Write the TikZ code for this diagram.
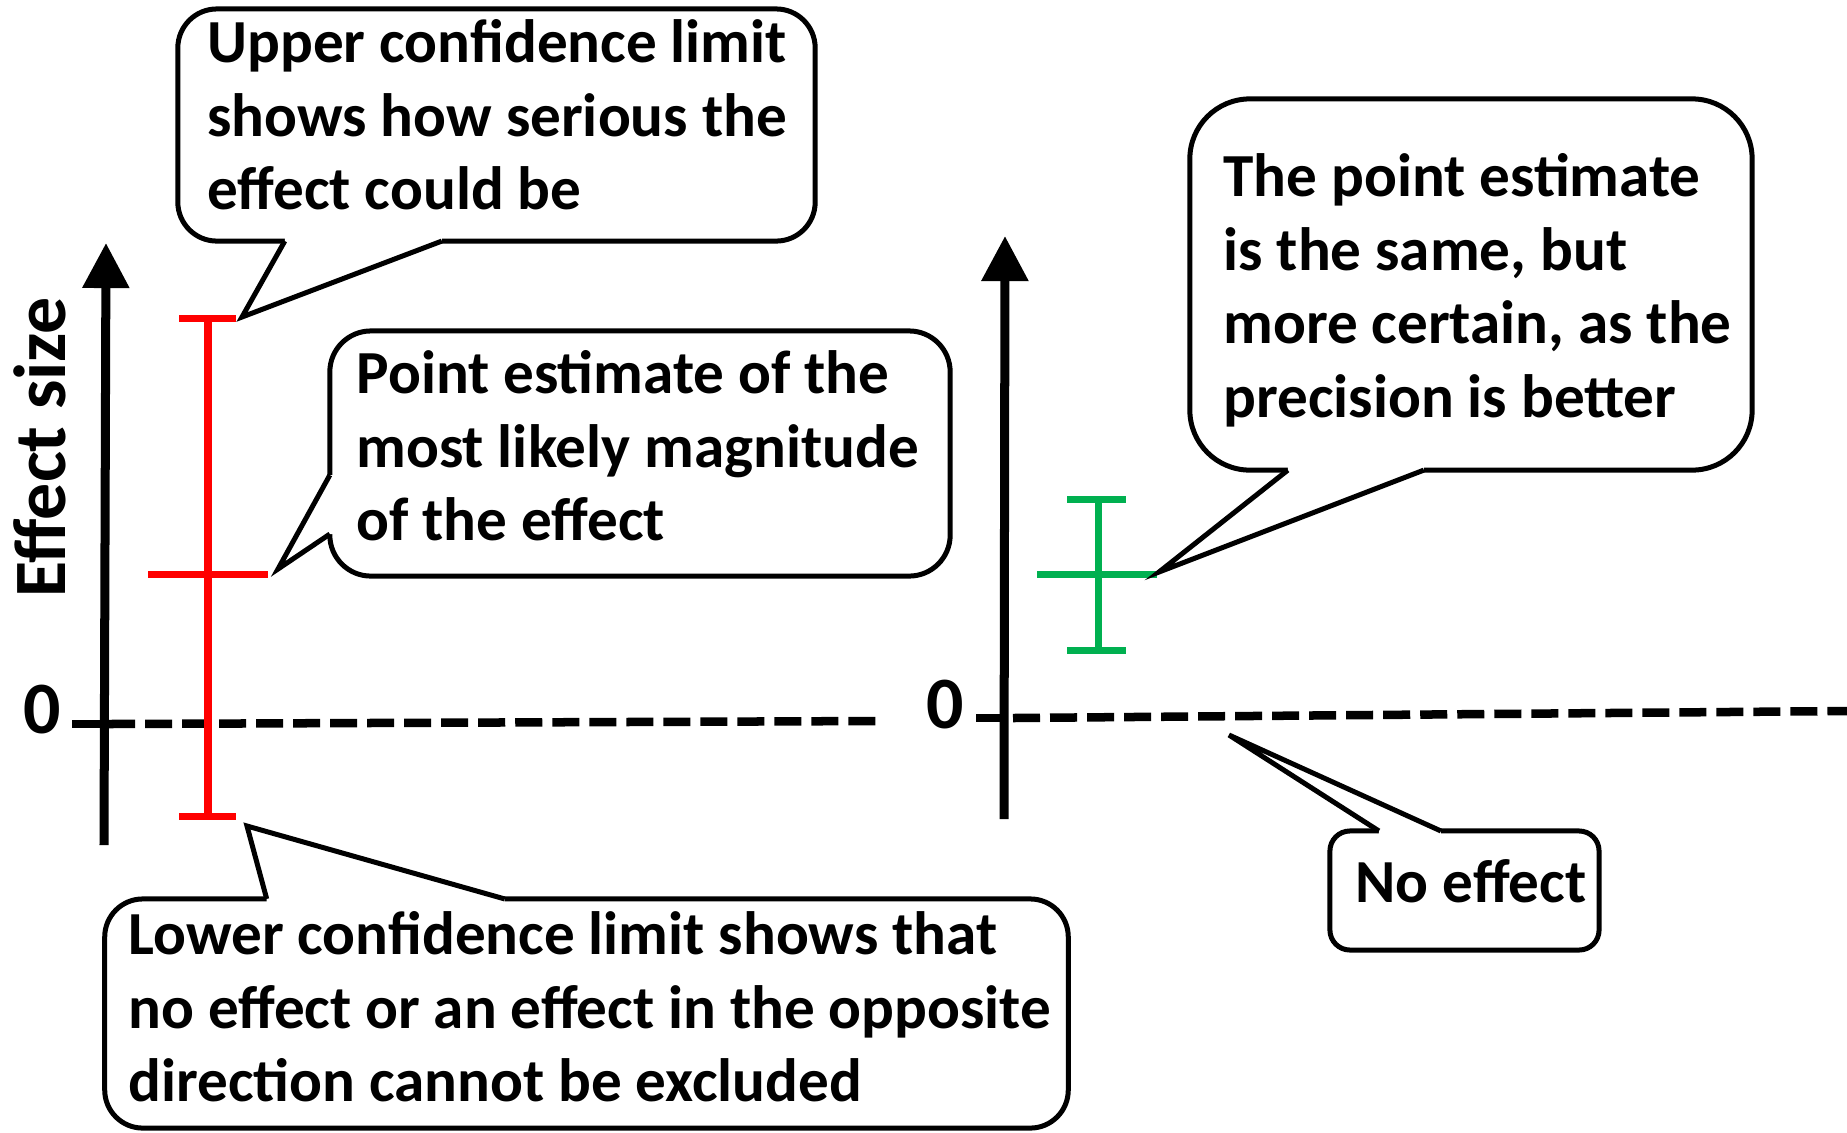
\documentclass[tikz,border=0pt]{standalone}
\usepackage{fontspec}
\setmainfont{Carlito}
\usetikzlibrary{arrows.meta,calc}

\definecolor{lowred}{HTML}{FF0000}
\definecolor{highgreen}{HTML}{00B050}

\newcommand{\bubbletail}[4]{%
    \fill[white] (#1) -- (#2) -- (#3) -- ($(#3)+(#4)$) -- ($(#1)+(#4)$) -- cycle;
    \draw[tailline] (#1) -- (#2) -- (#3);}

\tikzset{
    bubble/.style={draw, line width=0.05cm, fill=white, rounded corners=#1,
        inner sep=0pt, outer sep=0pt},
    tailline/.style={line width=0.05cm, line join=miter},
    note/.style={anchor=base west, align=flush left, inner sep=0pt, text width=#1,
        font=\bfseries\fontsize{17.4pt}{20.9pt}\selectfont},
    big/.style={inner sep=0pt, font=\bfseries\fontsize{21pt}{25pt}\selectfont},
    effaxis/.style={line width=0.09cm, -{Triangle[width=0.45cm, length=0.45cm]}},
    zeroline/.style={line width=0.085cm, dash pattern=on 0.27cm off 0.1cm},
    zerotick/.style={line width=0.085cm},
    cibar/.style={line width=0.07cm},
}

\begin{document}
\begin{tikzpicture}[x=0.01cm, y=-0.01cm]
    \useasboundingbox (0,0) rectangle (1847,1132);

    % left panel
    \draw[effaxis] (104,845) -- (106,243);
    \draw[zerotick] (72,724) -- (104,724);
    \draw[zeroline] (108,724) -- (882,721);
    \node[big, anchor=base] (zero left) at (42.5,733) {0};
    \node[big, rotate=90, anchor=base west] (effect size) at (65,598) {Effect size};

    \draw[cibar, lowred] (208,318) -- (208,816);
    \draw[cibar, lowred] (179,318) -- (236,318);
    \draw[cibar, lowred] (148,574) -- (268,574);
    \draw[cibar, lowred] (179,816) -- (236,816);

    \node[bubble=0.39cm, minimum width=6.37cm, minimum height=2.32cm] (ucl) at (496.5,125) {};
    \node[note=6.3cm] (ucl text) at ($(ucl.north west)+(29,54)$)
        {Upper confidence limit\\shows how serious the\\effect could be};
    \coordinate (ucl a) at ($(ucl.south west)+(107,0)$);
    \coordinate (ucl b) at ($(ucl.south west)+(264,0)$);
    \coordinate (ucl tip) at (242,317);
    \bubbletail{ucl a}{ucl tip}{ucl b}{0,-5}

    \node[bubble=0.41cm, minimum width=6.2cm, minimum height=2.45cm] (pe) at (640,453.5) {};
    \node[note=6.1cm] (pe text) at ($(pe.north west)+(26,63)$)
        {Point estimate of the\\most likely magnitude\\of the effect};
    \coordinate (pe a) at ($(pe.south west)+(0,-42)$);
    \coordinate (pe b) at ($(pe.south west)+(0,-101)$);
    \coordinate (pe tip) at (278,569);
    \bubbletail{pe a}{pe tip}{pe b}{5,0}

    \node[bubble=0.38cm, minimum width=9.63cm, minimum height=2.29cm] (lcl) at (586.5,1013.5) {};
    \node[note=9.5cm] (lcl text) at ($(lcl.north west)+(23,56)$)
        {Lower confidence limit shows that\\no effect or an effect in the opposite\\direction cannot be excluded};
    \coordinate (lcl a) at ($(lcl.north west)+(162,0)$);
    \coordinate (lcl b) at ($(lcl.north west)+(400,0)$);
    \coordinate (lcl tip) at (247,826);
    \bubbletail{lcl a}{lcl tip}{lcl b}{0,5}

    % right panel
    \draw[effaxis] (1004,819) -- (1005,236);
    \draw[zerotick] (976,718) -- (1004,718);
    \draw[zeroline] (1013,718) -- (1847,711);
    \node[big, anchor=base] (zero right) at (945.5,728) {0};

    \draw[cibar, highgreen] (1098,499) -- (1098,650);
    \draw[cibar, highgreen] (1067,499) -- (1126,499);
    \draw[cibar, highgreen] (1037,574) -- (1157,574);
    \draw[cibar, highgreen] (1067,650) -- (1126,650);

    \node[bubble=0.6cm, minimum width=5.62cm, minimum height=3.71cm] (same) at (1471,284.5) {};
    \node[note=5.5cm] (same text) at ($(same.north west)+(33,98)$)
        {The point estimate\\is the same, but\\more certain, as the\\precision is better};
    \coordinate (same a) at ($(same.south west)+(98,0)$);
    \coordinate (same b) at ($(same.south west)+(234,0)$);
    \coordinate (same tip) at (1159,572);
    \bubbletail{same a}{same tip}{same b}{0,-5}

    \node[bubble=0.2cm, minimum width=2.69cm, minimum height=1.19cm] (none) at (1464.5,890.5) {};
    \node[note=2.6cm] (none text) at ($(none.north west)+(25,72)$) {No effect};
    \coordinate (none a) at ($(none.north west)+(49,0)$);
    \coordinate (none b) at ($(none.north west)+(111,0)$);
    \coordinate (none tip) at (1229,735);
    \bubbletail{none a}{none tip}{none b}{0,5}

\end{tikzpicture}
\end{document}
